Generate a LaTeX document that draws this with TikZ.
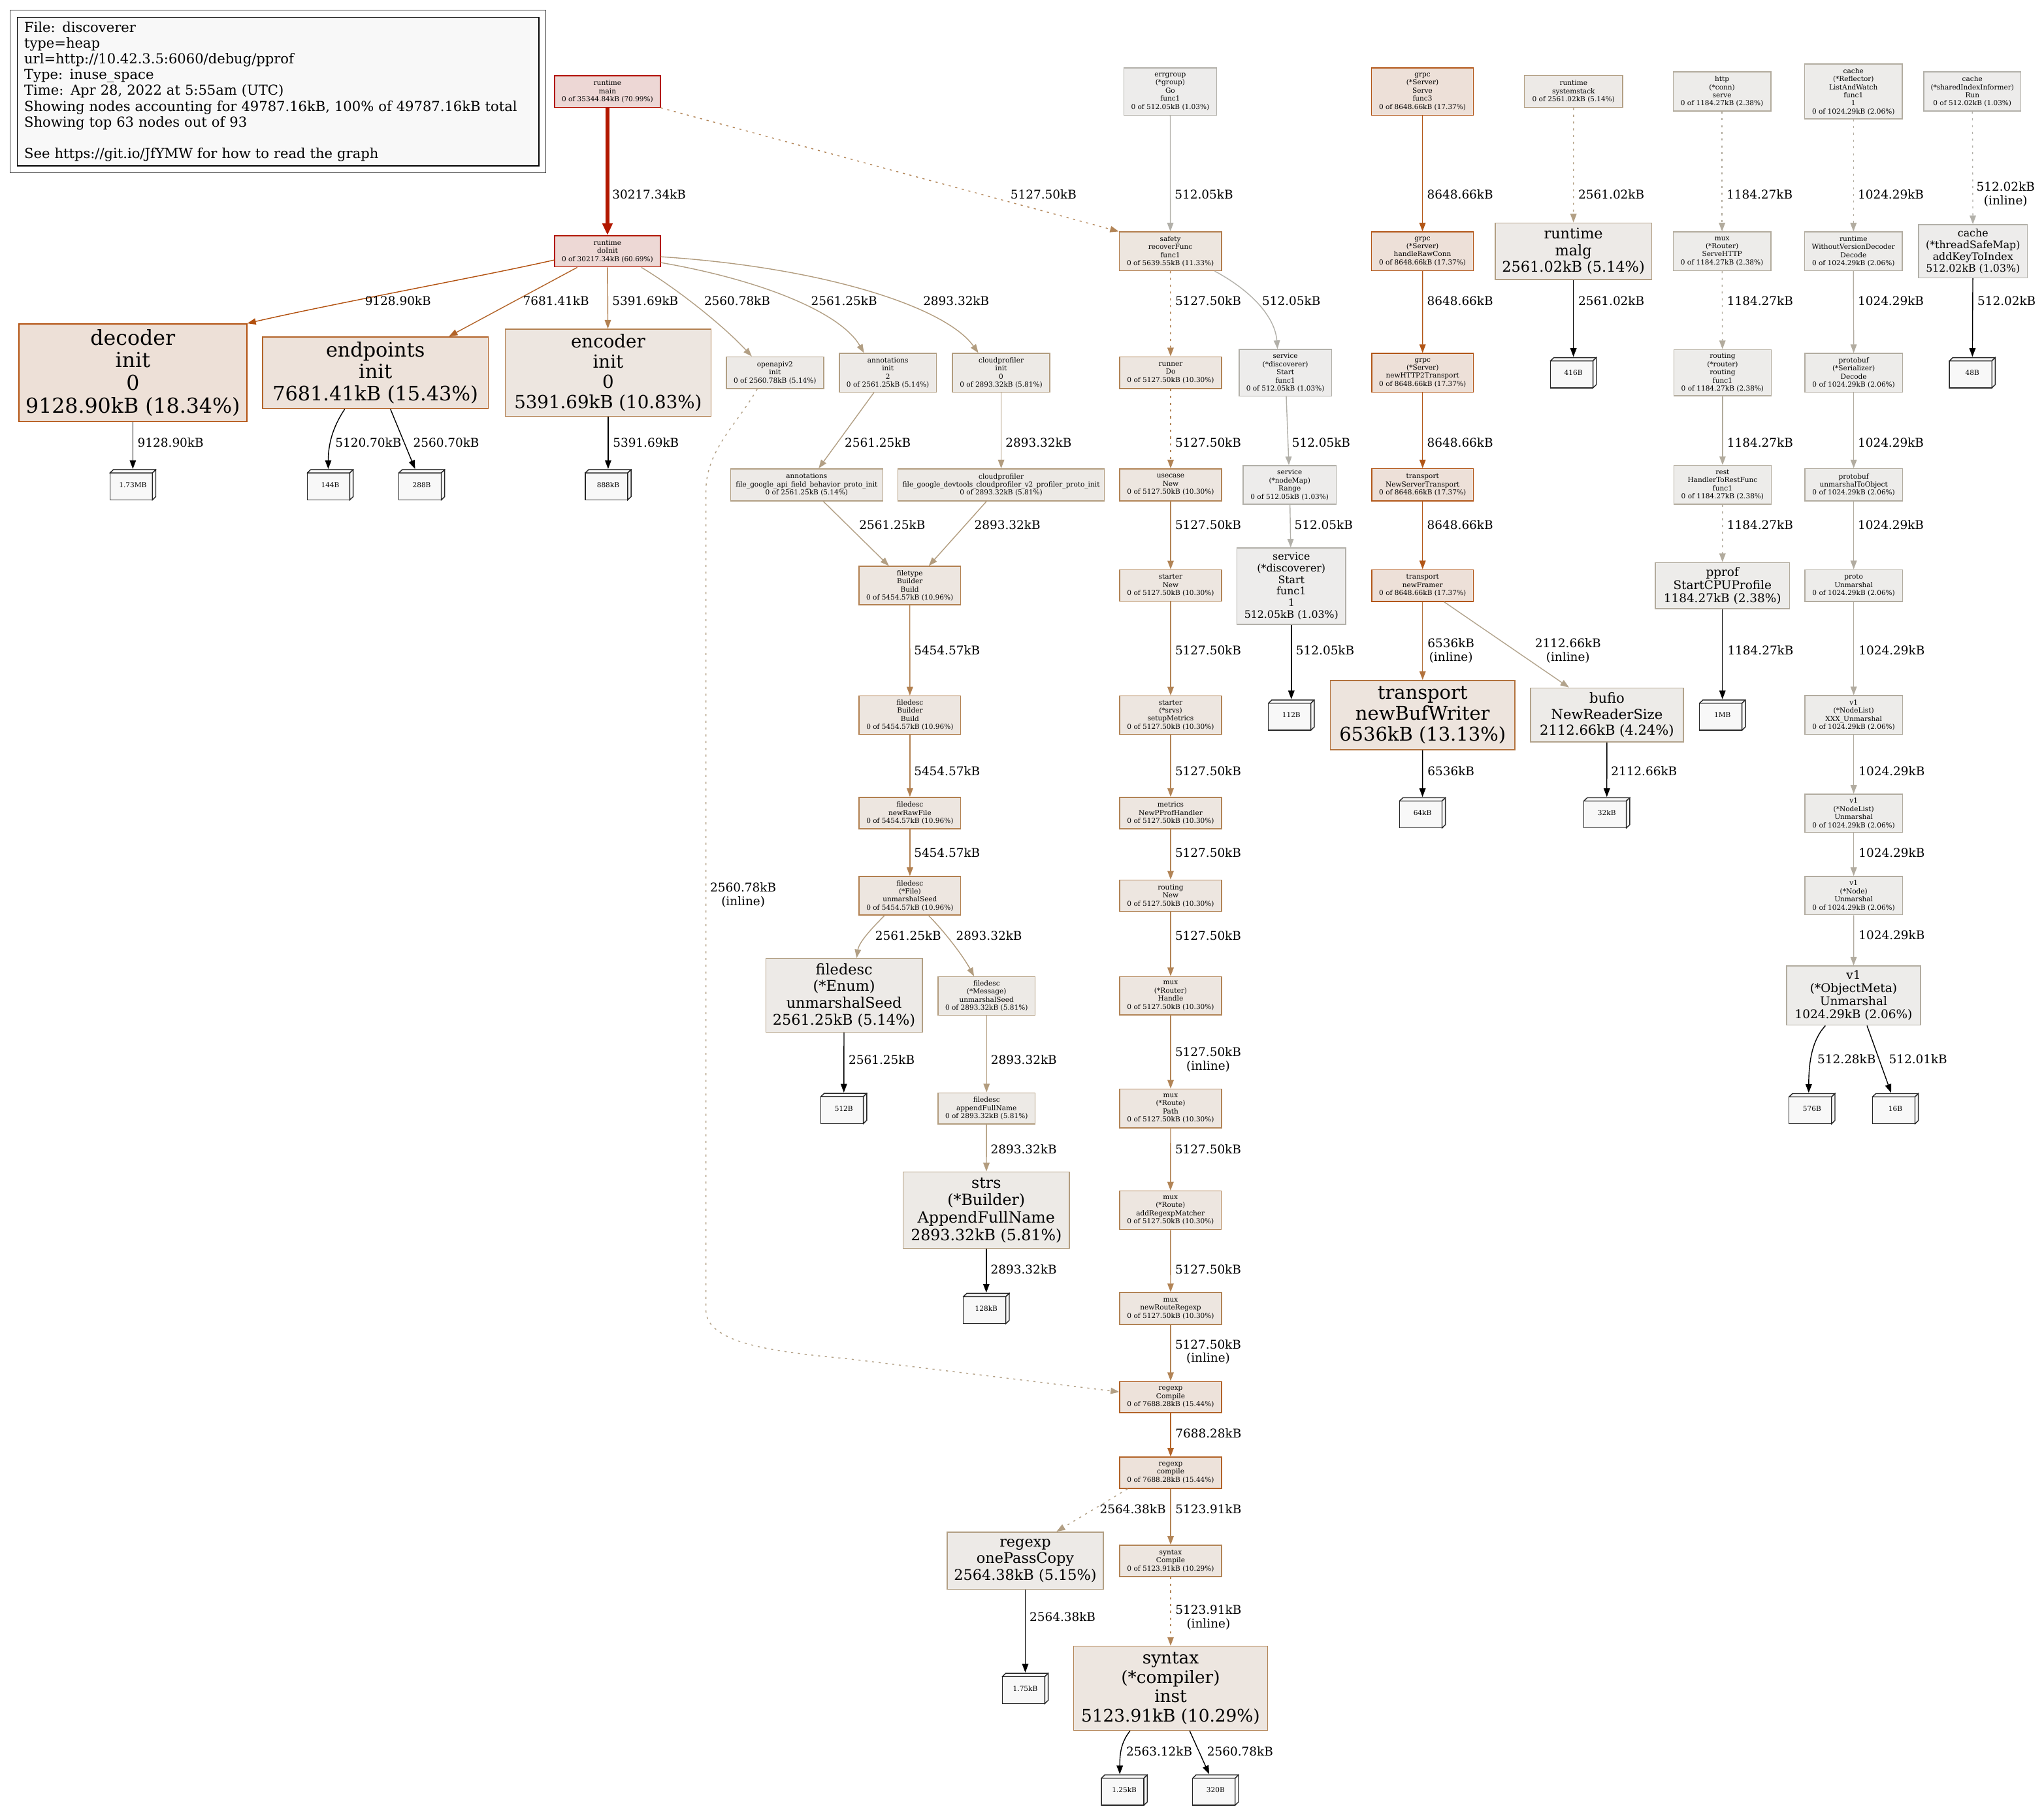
\documentclass[tikz,border=0pt]{standalone}
\usepackage{fontspec}
\setmainfont{DejaVu Serif}
\usetikzlibrary{arrows.meta}
\newcommand{\fzA}{\fontsize{5.28pt}{6.25pt}\selectfont}
\newcommand{\fzB}{\fontsize{7.92pt}{8.9pt}\selectfont}
\newcommand{\fzC}{\fontsize{9.24pt}{10.05pt}\selectfont}
\newcommand{\fzD}{\fontsize{10.56pt}{12.1pt}\selectfont}
\newcommand{\fzE}{\fontsize{11.22pt}{12.85pt}\selectfont}
\newcommand{\fzF}{\fontsize{11.88pt}{13.4pt}\selectfont}
\newcommand{\fzG}{\fontsize{13.2pt}{14.8pt}\selectfont}
\newcommand{\fzH}{\fontsize{13.86pt}{15.45pt}\selectfont}
\newcommand{\fzI}{\fontsize{14.52pt}{16pt}\selectfont}
\newcommand{\fzJ}{\fontsize{15.18pt}{16.6pt}\selectfont}
\newcommand{\fzK}{\fontsize{15.84pt}{17.45pt}\selectfont}
\newcommand{\fzL}{\fontsize{9.24pt}{10.4pt}\selectfont}
\newcommand{\fzM}{\fontsize{10.56pt}{12.1pt}\selectfont}
\newcommand{\ppc}{path picture bounding box.center}
% fill / border colours
\definecolor{Fmain}{HTML}{EDD7D5}\definecolor{Dmain}{HTML}{B21100}
\definecolor{Fdoi}{HTML}{EDD8D5}\definecolor{Ddoi}{HTML}{B21800}
\definecolor{F183}{HTML}{EDE0D7}\definecolor{D183}{HTML}{B2500E}
\definecolor{F173}{HTML}{EDE0D8}\definecolor{D173}{HTML}{B25617}
\definecolor{F154}{HTML}{EDE2DA}\definecolor{D154}{HTML}{B26328}
\definecolor{F131}{HTML}{EDE4DD}\definecolor{D131}{HTML}{B2723D}
\definecolor{F113}{HTML}{EDE6DF}\definecolor{D113}{HTML}{B27D4D}
\definecolor{F110}{HTML}{EDE6E0}\definecolor{D110}{HTML}{B28050}
\definecolor{F108}{HTML}{EDE6E0}\definecolor{D108}{HTML}{B28051}
\definecolor{F103}{HTML}{EDE6E0}\definecolor{D103}{HTML}{B28456}
\definecolor{F58}{HTML}{EDEAE6}\definecolor{D58}{HTML}{B29C7E}
\definecolor{F51}{HTML}{EDEAE7}\definecolor{D51}{HTML}{B29F84}
\definecolor{F42}{HTML}{EDEBE8}\definecolor{D42}{HTML}{B2A38C}
\definecolor{F24}{HTML}{EDECEA}\definecolor{D24}{HTML}{B2AB9D}
\definecolor{F21}{HTML}{EDECEA}\definecolor{D21}{HTML}{B2ACA0}
\definecolor{F10}{HTML}{EDECEB}\definecolor{D10}{HTML}{B2B0A9}
\definecolor{leaffill}{HTML}{F8F8F8}
\tikzset{
  fn/.style={draw, rectangle, align=center, inner sep=0pt, line width=0.75pt, text=black},
  sz/.style 2 args={minimum width=#1pt, minimum height=#2pt},
  kmain/.style={fill=Fmain, draw=Dmain}, kdoi/.style={fill=Fdoi, draw=Ddoi},
  k183/.style={fill=F183, draw=D183}, k173/.style={fill=F173, draw=D173},
  k154/.style={fill=F154, draw=D154}, k131/.style={fill=F131, draw=D131},
  k113/.style={fill=F113, draw=D113}, k110/.style={fill=F110, draw=D110},
  k108/.style={fill=F108, draw=D108}, k103/.style={fill=F103, draw=D103},
  k58/.style={fill=F58, draw=D58}, k51/.style={fill=F51, draw=D51},
  k42/.style={fill=F42, draw=D42}, k24/.style={fill=F24, draw=D24},
  k21/.style={fill=F21, draw=D21}, k10/.style={fill=F10, draw=D10},
  leaf/.style={minimum width=36pt, minimum height=24pt, inner sep=0pt, font=\fzA,
    path picture={
      \draw[line width=0.7pt, draw=black!85, fill=leaffill] ([shift={(-17.6pt,-11.6pt)}]\ppc) rectangle ([shift={(15pt,9.1pt)}]\ppc);
      \draw[line width=0.7pt, draw=black!85, fill=leaffill] ([shift={(-17.6pt,9.1pt)}]\ppc) -- ([shift={(-15pt,11.6pt)}]\ppc) -- ([shift={(17.6pt,11.6pt)}]\ppc) -- ([shift={(15pt,9.1pt)}]\ppc) -- cycle;
      \draw[line width=0.7pt, draw=black!85, fill=leaffill] ([shift={(15pt,9.1pt)}]\ppc) -- ([shift={(17.6pt,11.6pt)}]\ppc) -- ([shift={(17.6pt,-9.1pt)}]\ppc) -- ([shift={(15pt,-11.6pt)}]\ppc) -- cycle;
    }},
  ed/.style={line width=0.7pt, -{Triangle[length=6.6pt,width=4.8pt]}},
  dotd/.style={dash pattern=on 1.6pt off 3.6pt},
  el/.style={font=\fzL, anchor=west, inner sep=0pt, align=center, text=black},
}
\begin{document}
\begin{tikzpicture}[x=1pt, y=-1pt]
\useasboundingbox (0,0) rectangle (1568,1391);
\fill[white] (0,0) rectangle (1568,1391);

% legend
\node[draw=black!75, line width=0.7pt, minimum width=410.9pt, minimum height=124.7pt, inner sep=0pt] (legendframe) at (213.15,70.15) {};
\node[draw=black, line width=0.9pt, fill=leaffill, minimum width=400pt, minimum height=114pt, inner xsep=5.3pt, inner ysep=0pt, text width=389.4pt, align=left, font=\fzM] (legend) at (213.3,70.3)
 {File: discoverer\\type=heap\\url=http://10.42.3.5:6060/debug/pprof\\Type: inuse\_space\\Time: Apr 28, 2022 at 5:55am (UTC)\\Showing nodes accounting for 49787.16kB, 100\% of 49787.16kB total\\Showing top 63 nodes out of 93\\[12.1pt]See https://git.io/JfYMW for how to read the graph};

% row 0
\node[fn, kmain, sz={81}{24.3}, font=\fzA] (main) at (466,70.2) {runtime\\main\\0 of 35344.84kB (70.99\%)};
\node[fn, k10, sz={71}{36.3}, font=\fzA] (errgroup) at (897.7,70.2) {errgroup\\(*group)\\Go\\func1\\0 of 512.05kB (1.03\%)};
\node[fn, k173, sz={78}{36.3}, font=\fzA] (grpcServe) at (1091.2,70.2) {grpc\\(*Server)\\Serve\\func3\\0 of 8648.66kB (17.37\%)};
\node[fn, k51, sz={75.3}{24.5}, font=\fzA] (systemstack) at (1207.1,70.2) {runtime\\systemstack\\0 of 2561.02kB (5.14\%)};
\node[fn, k24, sz={75}{30}, font=\fzA] (http) at (1321,70.2) {http\\(*conn)\\serve\\0 of 1184.27kB (2.38\%)};
\node[fn, k21, sz={75}{42}, font=\fzA] (reflector) at (1421.8,70.2) {cache\\(*Reflector)\\ListAndWatch\\func1\\1\\0 of 1024.29kB (2.06\%)};
\node[fn, k10, sz={74.5}{30}, font=\fzA] (sharedInf) at (1513,70.2) {cache\\(*sharedIndexInformer)\\Run\\0 of 512.02kB (1.03\%)};

% row 1
\node[fn, kdoi, sz={81}{24}, font=\fzA] (doInit) at (466,192.8) {runtime\\doInit\\0 of 30217.34kB (60.69\%)};
\node[fn, k113, sz={78.5}{29.7}, font=\fzA] (safety) at (897.8,192.8) {safety\\recoverFunc\\func1\\0 of 5639.55kB (11.33\%)};
\node[fn, k173, sz={78}{29.7}, font=\fzA] (handleRawConn) at (1091.2,192.8) {grpc\\(*Server)\\handleRawConn\\0 of 8648.66kB (17.37\%)};
\node[fn, k51, sz={120}{43.5}, font=\fzE] (malg) at (1207,192.8) {runtime\\malg\\2561.02kB (5.14\%)};
\node[fn, k24, sz={75}{29.7}, font=\fzA] (serveHTTP) at (1321,192.8) {mux\\(*Router)\\ServeHTTP\\0 of 1184.27kB (2.38\%)};
\node[fn, k21, sz={75}{29.7}, font=\fzA] (wvd) at (1421.8,192.8) {runtime\\WithoutVersionDecoder\\Decode\\0 of 1024.29kB (2.06\%)};
\node[fn, k10, sz={83.6}{40.8}, font=\fzB] (threadSafe) at (1513.5,192.8) {cache\\(*threadSafeMap)\\addKeyToIndex\\512.02kB (1.03\%)};

% row 2
\node[fn, k183, sz={174.8}{75}, font=\fzK] (decoder) at (101.9,286) {decoder\\init\\0\\9128.90kB (18.34\%)};
\node[fn, k154, sz={173}{55}, font=\fzJ] (endpoints) at (288,286) {endpoints\\init\\7681.41kB (15.43\%)};
\node[fn, k108, sz={158}{67}, font=\fzH] (encoder) at (466.5,286) {encoder\\init\\0\\5391.69kB (10.83\%)};
\node[fn, k51, sz={74.6}{24.4}, font=\fzA] (openapiv2) at (594.5,286) {openapiv2\\init\\0 of 2560.78kB (5.14\%)};
\node[fn, k51, sz={74.3}{29.7}, font=\fzA] (annotInit) at (681.1,286) {annotations\\init\\2\\0 of 2561.25kB (5.14\%)};
\node[fn, k58, sz={74.6}{29.7}, font=\fzA] (cloudInit) at (768,286) {cloudprofiler\\init\\0\\0 of 2893.32kB (5.81\%)};
\node[fn, k103, sz={78}{24.4}, font=\fzA] (runner) at (898,286) {runner\\Do\\0 of 5127.50kB (10.30\%)};
\node[fn, k10, sz={71}{35.7}, font=\fzA] (svcStart) at (986,286) {service\\(*discoverer)\\Start\\func1\\0 of 512.05kB (1.03\%)};
\node[fn, k173, sz={78}{29.6}, font=\fzA] (newHTTP2) at (1091.3,286) {grpc\\(*Server)\\newHTTP2Transport\\0 of 8648.66kB (17.37\%)};
\node[leaf] (leafA) at (1207,286) {416B};
\node[fn, k24, sz={74.7}{35.5}, font=\fzA] (routingFunc) at (1321.4,286) {routing\\(*router)\\routing\\func1\\0 of 1184.27kB (2.38\%)};
\node[fn, k21, sz={75}{29.6}, font=\fzA] (serializer) at (1422,286) {protobuf\\(*Serializer)\\Decode\\0 of 1024.29kB (2.06\%)};
\node[leaf] (leafB) at (1513,286) {48B};

% row 3
\node[leaf] (leafC) at (101.9,372) {1.73MB};
\node[leaf] (leafD) at (253.3,372) {144B};
\node[leaf] (leafE) at (323.5,372) {288B};
\node[leaf] (leafF) at (466.5,372) {888kB};
\node[fn, k51, sz={116.7}{24.5}, font=\fzA] (annotFgb) at (618.8,372) {annotations\\file\_google\_api\_field\_behavior\_proto\_init\\0 of 2561.25kB (5.14\%)};
\node[fn, k58, sz={158.2}{24.5}, font=\fzA] (cloudFgd) at (768,372) {cloudprofiler\\file\_google\_devtools\_cloudprofiler\_v2\_profiler\_proto\_init\\0 of 2893.32kB (5.81\%)};
\node[fn, k103, sz={78}{24.5}, font=\fzA] (usecase) at (898,372) {usecase\\New\\0 of 5127.50kB (10.30\%)};
\node[fn, k10, sz={71.4}{29.5}, font=\fzA] (nodeMap) at (989.3,372) {service\\(*nodeMap)\\Range\\0 of 512.05kB (1.03\%)};
\node[fn, k173, sz={78}{24.7}, font=\fzA] (newServerTransport) at (1091.3,372) {transport\\NewServerTransport\\0 of 8648.66kB (17.37\%)};
\node[fn, k24, sz={74.7}{29.7}, font=\fzA] (rest) at (1321.4,372) {rest\\HandlerToRestFunc\\func1\\0 of 1184.27kB (2.38\%)};
\node[fn, k21, sz={75}{24.7}, font=\fzA] (unmarshalToObject) at (1422,372) {protobuf\\unmarshalToObject\\0 of 1024.29kB (2.06\%)};

% row 4
\node[fn, k110, sz={77.8}{29.5}, font=\fzA] (filetype) at (697.9,449.3) {filetype\\Builder\\Build\\0 of 5454.57kB (10.96\%)};
\node[fn, k103, sz={78}{24.2}, font=\fzA] (starterNew) at (898,449.3) {starter\\New\\0 of 5127.50kB (10.30\%)};
\node[fn, k10, sz={83.6}{58.5}, font=\fzB] (svcStartBig) at (990.6,449.7) {service\\(*discoverer)\\Start\\func1\\1\\512.05kB (1.03\%)};
\node[fn, k173, sz={78}{24.3}, font=\fzA] (newFramer) at (1091.3,449.3) {transport\\newFramer\\0 of 8648.66kB (17.37\%)};
\node[fn, k24, sz={103}{35.3}, font=\fzC] (pprof) at (1321.3,449.3) {pprof\\StartCPUProfile\\1184.27kB (2.38\%)};
\node[fn, k21, sz={75}{24.3}, font=\fzA] (protoUnmarshal) at (1422,449.3) {proto\\Unmarshal\\0 of 1024.29kB (2.06\%)};

% row 5
\node[fn, k110, sz={78}{29.4}, font=\fzA] (builderBuild) at (698,548.7) {filedesc\\Builder\\Build\\0 of 5454.57kB (10.96\%)};
\node[fn, k103, sz={78}{29.4}, font=\fzA] (setupMetrics) at (898,548.7) {starter\\(*srvs)\\setupMetrics\\0 of 5127.50kB (10.30\%)};
\node[leaf] (leafG) at (990.6,548.7) {112B};
\node[fn, k131, sz={141.5}{53.3}, font=\fzI] (newBufWriter) at (1091.3,548.7) {transport\\newBufWriter\\6536kB (13.13\%)};
\node[fn, k42, sz={117.4}{41.5}, font=\fzD] (bufio) at (1232.7,548.6) {bufio\\NewReaderSize\\2112.66kB (4.24\%)};
\node[leaf] (leafH) at (1321.3,548.7) {1MB};
\node[fn, k21, sz={75}{29.6}, font=\fzA] (xxx) at (1422,548.6) {v1\\(*NodeList)\\XXX\_Unmarshal\\0 of 1024.29kB (2.06\%)};

% row 6
\node[fn, k110, sz={78}{24.2}, font=\fzA] (newRawFile) at (698,623.9) {filedesc\\newRawFile\\0 of 5454.57kB (10.96\%)};
\node[fn, k103, sz={78}{24.2}, font=\fzA] (pprofHandler) at (898,623.9) {metrics\\NewPProfHandler\\0 of 5127.50kB (10.30\%)};
\node[leaf] (leafI) at (1091.2,623.7) {64kB};
\node[leaf] (leafJ) at (1232.6,623.7) {32kB};
\node[fn, k21, sz={75}{29.3}, font=\fzA] (nodeListUnmarshal) at (1422,624) {v1\\(*NodeList)\\Unmarshal\\0 of 1024.29kB (2.06\%)};

% row 7
\node[fn, k110, sz={78}{29.5}, font=\fzA] (fileSeed) at (698,687.3) {filedesc\\(*File)\\unmarshalSeed\\0 of 5454.57kB (10.96\%)};
\node[fn, k103, sz={78}{24.1}, font=\fzA] (routingNew) at (898,687.3) {routing\\New\\0 of 5127.50kB (10.30\%)};
\node[fn, k21, sz={75}{29.4}, font=\fzA] (nodeUnmarshal) at (1422,687.2) {v1\\(*Node)\\Unmarshal\\0 of 1024.29kB (2.06\%)};

% row 8
\node[fn, k51, sz={120}{56.5}, font=\fzE] (enum) at (647.5,763.7) {filedesc\\(*Enum)\\unmarshalSeed\\2561.25kB (5.14\%)};
\node[fn, k58, sz={74.5}{29.5}, font=\fzA] (message) at (756.8,764.2) {filedesc\\(*Message)\\unmarshalSeed\\0 of 2893.32kB (5.81\%)};
\node[fn, k103, sz={78}{29.3}, font=\fzA] (muxHandle) at (898,764) {mux\\(*Router)\\Handle\\0 of 5127.50kB (10.30\%)};
\node[fn, k21, sz={102.8}{45.4}, font=\fzC] (objectMeta) at (1421.9,763.9) {v1\\(*ObjectMeta)\\Unmarshal\\1024.29kB (2.06\%)};

% row 9
\node[leaf] (leafK) at (647.3,850.5) {512B};
\node[fn, k58, sz={74.5}{24}, font=\fzA] (appendFullName) at (756.8,850.5) {filedesc\\appendFullName\\0 of 2893.32kB (5.81\%)};
\node[fn, k103, sz={78}{29.7}, font=\fzA] (routePath) at (898,850.5) {mux\\(*Route)\\Path\\0 of 5127.50kB (10.30\%)};
\node[leaf] (leafL) at (1390,850.7) {576B};
\node[leaf] (leafM) at (1454,850.7) {16B};

% row 10-11
\node[fn, k58, sz={127.4}{58.8}, font=\fzF] (strs) at (756.6,928.6) {strs\\(*Builder)\\AppendFullName\\2893.32kB (5.81\%)};
\node[fn, k103, sz={78}{29.5}, font=\fzA] (addRegexp) at (897.9,928.6) {mux\\(*Route)\\addRegexpMatcher\\0 of 5127.50kB (10.30\%)};
\node[leaf] (leafN) at (756.6,1004) {128kB};
\node[fn, k103, sz={78}{24.4}, font=\fzA] (newRouteRegexp) at (898,1004) {mux\\newRouteRegexp\\0 of 5127.50kB (10.30\%)};

% rows 12-16
\node[fn, k154, sz={78}{24}, font=\fzA] (regexpCompile) at (898,1072) {regexp\\Compile\\0 of 7688.28kB (15.44\%)};
\node[fn, k154, sz={78}{24}, font=\fzA] (rxcompile) at (898,1130) {regexp\\compile\\0 of 7688.28kB (15.44\%)};
\node[fn, k51, sz={120}{44}, font=\fzE] (onePassCopy) at (786.5,1197.5) {regexp\\onePassCopy\\2564.38kB (5.15\%)};
\node[fn, k103, sz={78}{24}, font=\fzA] (syntaxCompile) at (898,1197.6) {syntax\\Compile\\0 of 5123.91kB (10.29\%)};
\node[leaf] (leafO) at (786.5,1295.5) {1.75kB};
\node[fn, k103, sz={149}{64.5}, font=\fzG] (inst) at (898,1295.4) {syntax\\(*compiler)\\inst\\5123.91kB (10.29\%)};
\node[leaf] (leafP) at (862.5,1373.5) {1.25kB};
\node[leaf] (leafQ) at (932.5,1373.5) {320B};

% ---------------- edges ----------------
\draw[line width=2.6pt, draw=Ddoi, -{Triangle[length=9pt,width=7.5pt]}] (main) -- (doInit);
\draw[ed, dotd, draw=D103] (main.south east) -- (safety.north west);
\draw[ed, draw=D10] (errgroup) -- (safety);
\draw[ed, draw=D173] (grpcServe) -- (handleRawConn);
\draw[ed, draw=D173] (handleRawConn) -- (newHTTP2);
\draw[ed, draw=D173] (newHTTP2) -- (newServerTransport);
\draw[ed, draw=D173] (newServerTransport) -- (newFramer);
\draw[ed, draw=D131] (newFramer) -- (newBufWriter);
\draw[ed, draw=D42] ([xshift=16.5pt]newFramer.south) -- ([xshift=-29.1pt]bufio.north);
\draw[ed, draw=black] (newBufWriter) -- (leafI);
\draw[ed, draw=black] (bufio) -- (leafJ);
\draw[ed, dotd, draw=D51] (systemstack) -- (malg);
\draw[ed, draw=black] (malg) -- (leafA);
\draw[ed, dotd, draw=D24] (http) -- (serveHTTP);
\draw[ed, dotd, draw=D24] (serveHTTP) -- (routingFunc);
\draw[ed, draw=D24] (routingFunc) -- (rest);
\draw[ed, dotd, draw=D24] (rest) -- (pprof);
\draw[ed, draw=black] (pprof) -- (leafH);
\draw[ed, dotd, draw=D21] (reflector) -- (wvd);
\draw[ed, draw=D21] (wvd) -- (serializer);
\draw[ed, draw=D21] (serializer) -- (unmarshalToObject);
\draw[ed, draw=D21] (unmarshalToObject) -- (protoUnmarshal);
\draw[ed, draw=D21] (protoUnmarshal) -- (xxx);
\draw[ed, draw=D21] (xxx) -- (nodeListUnmarshal);
\draw[ed, draw=D21] (nodeListUnmarshal) -- (nodeUnmarshal);
\draw[ed, draw=D21] (nodeUnmarshal) -- (objectMeta);
\draw[ed, draw=black] ([xshift=-21.6pt]objectMeta.south) .. controls (1390,798) and (1387.5,815) .. ([xshift=-2.5pt]leafL.north);
\draw[ed, draw=black] ([xshift=10.3pt]objectMeta.south) -- ([xshift=-3.3pt]leafM.north);
\draw[ed, dotd, draw=D10] (sharedInf) -- (threadSafe);
\draw[ed, draw=black] (threadSafe) -- (leafB);
\draw[ed, dotd, draw=D103] (safety) -- (runner);
\draw[ed, dotd, draw=D103] (runner) -- (usecase);
\draw[ed, draw=D103] (usecase) -- (starterNew);
\draw[ed, draw=D103] (starterNew) -- (setupMetrics);
\draw[ed, draw=D103] (setupMetrics) -- (pprofHandler);
\draw[ed, draw=D103] (pprofHandler) -- (routingNew);
\draw[ed, draw=D103] (routingNew) -- (muxHandle);
\draw[ed, draw=D103] (muxHandle) -- (routePath);
\draw[ed, draw=D103] (routePath) -- (addRegexp);
\draw[ed, draw=D103] (addRegexp) -- (newRouteRegexp);
\draw[ed, draw=D103] (newRouteRegexp) -- (regexpCompile);
\draw[ed, draw=D154] (regexpCompile) -- (rxcompile);
\draw[ed, draw=D103] (rxcompile) -- (syntaxCompile);
\draw[ed, dotd, draw=D51] ([xshift=-33pt]rxcompile.south) -- ([xshift=24pt]onePassCopy.north);
\draw[ed, dotd, draw=D103] (syntaxCompile) -- (inst);
\draw[ed, draw=black] (onePassCopy) -- (leafO);
\draw[ed, draw=black] ([xshift=-31.1pt]inst.south) .. controls (860,1337) and (859,1345) .. ([xshift=-3.5pt]leafP.north);
\draw[ed, draw=black] ([xshift=14.6pt]inst.south) -- ([xshift=-4.9pt]leafQ.north);
\draw[ed, draw=D10] ([xshift=34pt]safety.south) .. controls (958,222) and (978,242) .. ([xshift=-6pt]svcStart.north);
\draw[ed, draw=D10] (svcStart) -- (nodeMap);
\draw[ed, draw=D10] (nodeMap) -- (svcStartBig);
\draw[ed, draw=black] (svcStartBig) -- (leafG);
\draw[ed, draw=D183] ([yshift=-6.7pt]doInit.west) .. controls (370,212) and (260,232) .. (decoder.north east);
\draw[ed, draw=D154] ([xshift=-23.2pt]doInit.south) -- ([xshift=56.4pt]endpoints.north);
\draw[ed, draw=D108] (doInit) -- (encoder);
\draw[ed, draw=D51] ([xshift=26pt]doInit.south) .. controls (520,222) and (555,250) .. ([xshift=-17.8pt]openapiv2.north);
\draw[ed, draw=D51] ([yshift=-8.7pt]doInit.east) .. controls (585,215) and (645,240) .. ([xshift=-18.3pt]annotInit.north);
\draw[ed, draw=D58] ([yshift=-4.2pt]doInit.east) .. controls (630,205) and (725,235) .. ([xshift=-17.5pt]cloudInit.north);
\draw[ed, draw=black] (decoder) -- (leafC);
\draw[ed, draw=black] ([xshift=-23.5pt]endpoints.south) .. controls (257,325) and (251.8,338) .. ([xshift=-1.5pt]leafD.north);
\draw[ed, draw=black] ([xshift=11.5pt]endpoints.south) -- ([xshift=-5.1pt]leafE.north);
\draw[ed, draw=black] (encoder) -- (leafF);
\draw[ed, draw=D51] ([xshift=-10.7pt]annotInit.south) -- ([xshift=9.2pt]annotFgb.north);
\draw[ed, draw=D51] ([xshift=12.7pt]annotFgb.south) -- ([xshift=-16pt]filetype.north);
\draw[ed, draw=D58] (cloudInit) -- (cloudFgd);
\draw[ed, draw=D58] ([xshift=-11.2pt]cloudFgd.south) -- ([xshift=14.6pt]filetype.north);
\draw[ed, draw=D110] (filetype) -- (builderBuild);
\draw[ed, draw=D110] (builderBuild) -- (newRawFile);
\draw[ed, draw=D110] (newRawFile) -- (fileSeed);
\draw[ed, draw=D51] ([xshift=-19.4pt]fileSeed.south) .. controls (668,713) and (659,723) .. ([xshift=9.6pt]enum.north);
\draw[ed, draw=D58] ([xshift=14.2pt]fileSeed.south) .. controls (722,712) and (738,732) .. ([xshift=-9.6pt]message.north);
\draw[ed, draw=D58] (message) -- (appendFullName);
\draw[ed, draw=D58] (appendFullName) -- (strs);
\draw[ed, draw=black] (strs) -- (leafN);
\draw[ed, draw=black] (enum) -- (leafK);
\draw[ed, dotd, draw=D51] ([xshift=-13.7pt]openapiv2.south) .. controls (566,325) and (541.5,345) .. (541.5,377) -- (541.5,1005) .. controls (541.5,1030) and (590,1037) .. (650,1042.5) -- ([yshift=4pt]regexpCompile.west);

% ---------------- edge labels ----------------
\node[el] (l01) at (469.5,149) {30217.34kB};
\node[el] (l02) at (775,149) {5127.50kB};
\node[el] (l03) at (901,149) {512.05kB};
\node[el] (l04) at (1094.6,149) {8648.66kB};
\node[el] (l05) at (1210.6,149) {2561.02kB};
\node[el] (l06) at (1324.3,149) {1184.27kB};
\node[el] (l07) at (1425,149) {1024.29kB};
\node[el] (l08) at (1516,149.1) {512.02kB\\(inline)};

\node[el] (l11) at (279.8,230.8) {9128.90kB};
\node[el] (l12) at (401,230.8) {7681.41kB};
\node[el] (l13) at (469.5,230.8) {5391.69kB};
\node[el] (l14) at (540,230.8) {2560.78kB};
\node[el] (l15) at (622,230.8) {2561.25kB};
\node[el] (l16) at (708,230.8) {2893.32kB};
\node[el] (l17) at (901.3,230.8) {5127.50kB};
\node[el] (l18) at (968,230.8) {512.05kB};
\node[el] (l19) at (1094.6,230.8) {8648.66kB};
\node[el] (l1a) at (1210.6,230.8) {2561.02kB};
\node[el] (l1b) at (1324.7,230.8) {1184.27kB};
\node[el] (l1c) at (1425,230.8) {1024.29kB};
\node[el] (l1d) at (1516.7,230.8) {512.02kB};

\node[el] (l21) at (105.4,339.8) {9128.90kB};
\node[el] (l22) at (257.1,339.8) {5120.70kB};
\node[el] (l23) at (316.8,339.8) {2560.70kB};
\node[el] (l24) at (470,339.8) {5391.69kB};
\node[el] (l25) at (647.8,339.8) {2561.25kB};
\node[el] (l26) at (771.2,339.8) {2893.32kB};
\node[el] (l27) at (901.3,339.8) {5127.50kB};
\node[el] (l28) at (990.9,339.8) {512.05kB};
\node[el] (l29) at (1094.6,339.8) {8648.66kB};
\node[el] (l2a) at (1324.7,339.8) {1184.27kB};
\node[el] (l2b) at (1425,339.8) {1024.29kB};

\node[el] (l31) at (659,402.8) {2561.25kB};
\node[el] (l32) at (747.3,402.8) {2893.32kB};
\node[el] (l33) at (901.3,402.8) {5127.50kB};
\node[el] (l34) at (992.8,402.8) {512.05kB};
\node[el] (l35) at (1094.6,402.6) {8648.66kB};
\node[el] (l36) at (1324.7,402.6) {1184.27kB};
\node[el] (l37) at (1425,402.6) {1024.29kB};

\node[el] (l41) at (701,498.8) {5454.57kB};
\node[el] (l42) at (901.3,498.8) {5127.50kB};
\node[el] (l43) at (994,498.8) {512.05kB};
\node[el] (l44) at (1094.9,499.4) {6536kB\\(inline)};
\node[el] (l45) at (1177.3,499.4) {2112.66kB\\(inline)};
\node[el] (l46) at (1325,498.8) {1184.27kB};
\node[el] (l47) at (1425.7,498.8) {1024.29kB};

\node[el] (l51) at (701,591.5) {5454.57kB};
\node[el] (l52) at (901.3,591.5) {5127.50kB};
\node[el] (l53) at (1094.9,591.7) {6536kB};
\node[el] (l54) at (1235.7,591.7) {2112.66kB};
\node[el] (l55) at (1425.7,591.4) {1024.29kB};

\node[el] (l61) at (701,654.4) {5454.57kB};
\node[el] (l62) at (901.3,654.4) {5127.50kB};
\node[el] (l63) at (1425.7,654.2) {1024.29kB};
\node[el] (l64) at (544.6,686.9) {2560.78kB\\(inline)};

\node[el] (l71) at (671.2,718) {2561.25kB};
\node[el] (l72) at (733.2,718) {2893.32kB};
\node[el] (l73) at (901.3,718) {5127.50kB};
\node[el] (l74) at (1425.7,717.4) {1024.29kB};

\node[el] (l81) at (650.8,813.2) {2561.25kB};
\node[el] (l82) at (759.9,813.2) {2893.32kB};
\node[el] (l83) at (901.3,813.2) {5127.50kB\\(inline)};
\node[el] (l84) at (1394,812.6) {512.28kB};
\node[el] (l85) at (1448.8,812.6) {512.01kB};

\node[el] (l91) at (759.8,881.7) {2893.32kB};
\node[el] (l92) at (901.3,881.7) {5127.50kB};
\node[el] (l93) at (759.8,974.2) {2893.32kB};
\node[el] (l94) at (901.3,974.2) {5127.50kB};
\node[el] (l95) at (901.3,1037.3) {5127.50kB\\(inline)};
\node[el] (l96) at (901.5,1100) {7688.28kB};
\node[el] (l97) at (843.5,1158) {2564.38kB};
\node[el] (l98) at (901.5,1158) {5123.91kB};
\node[el] (l99) at (789.6,1240.4) {2564.38kB};
\node[el] (l9a) at (901.5,1240.8) {5123.91kB\\(inline)};
\node[el] (l9b) at (863.8,1343.8) {2563.12kB};
\node[el] (l9c) at (925.8,1343.8) {2560.78kB};
\end{tikzpicture}
\end{document}
